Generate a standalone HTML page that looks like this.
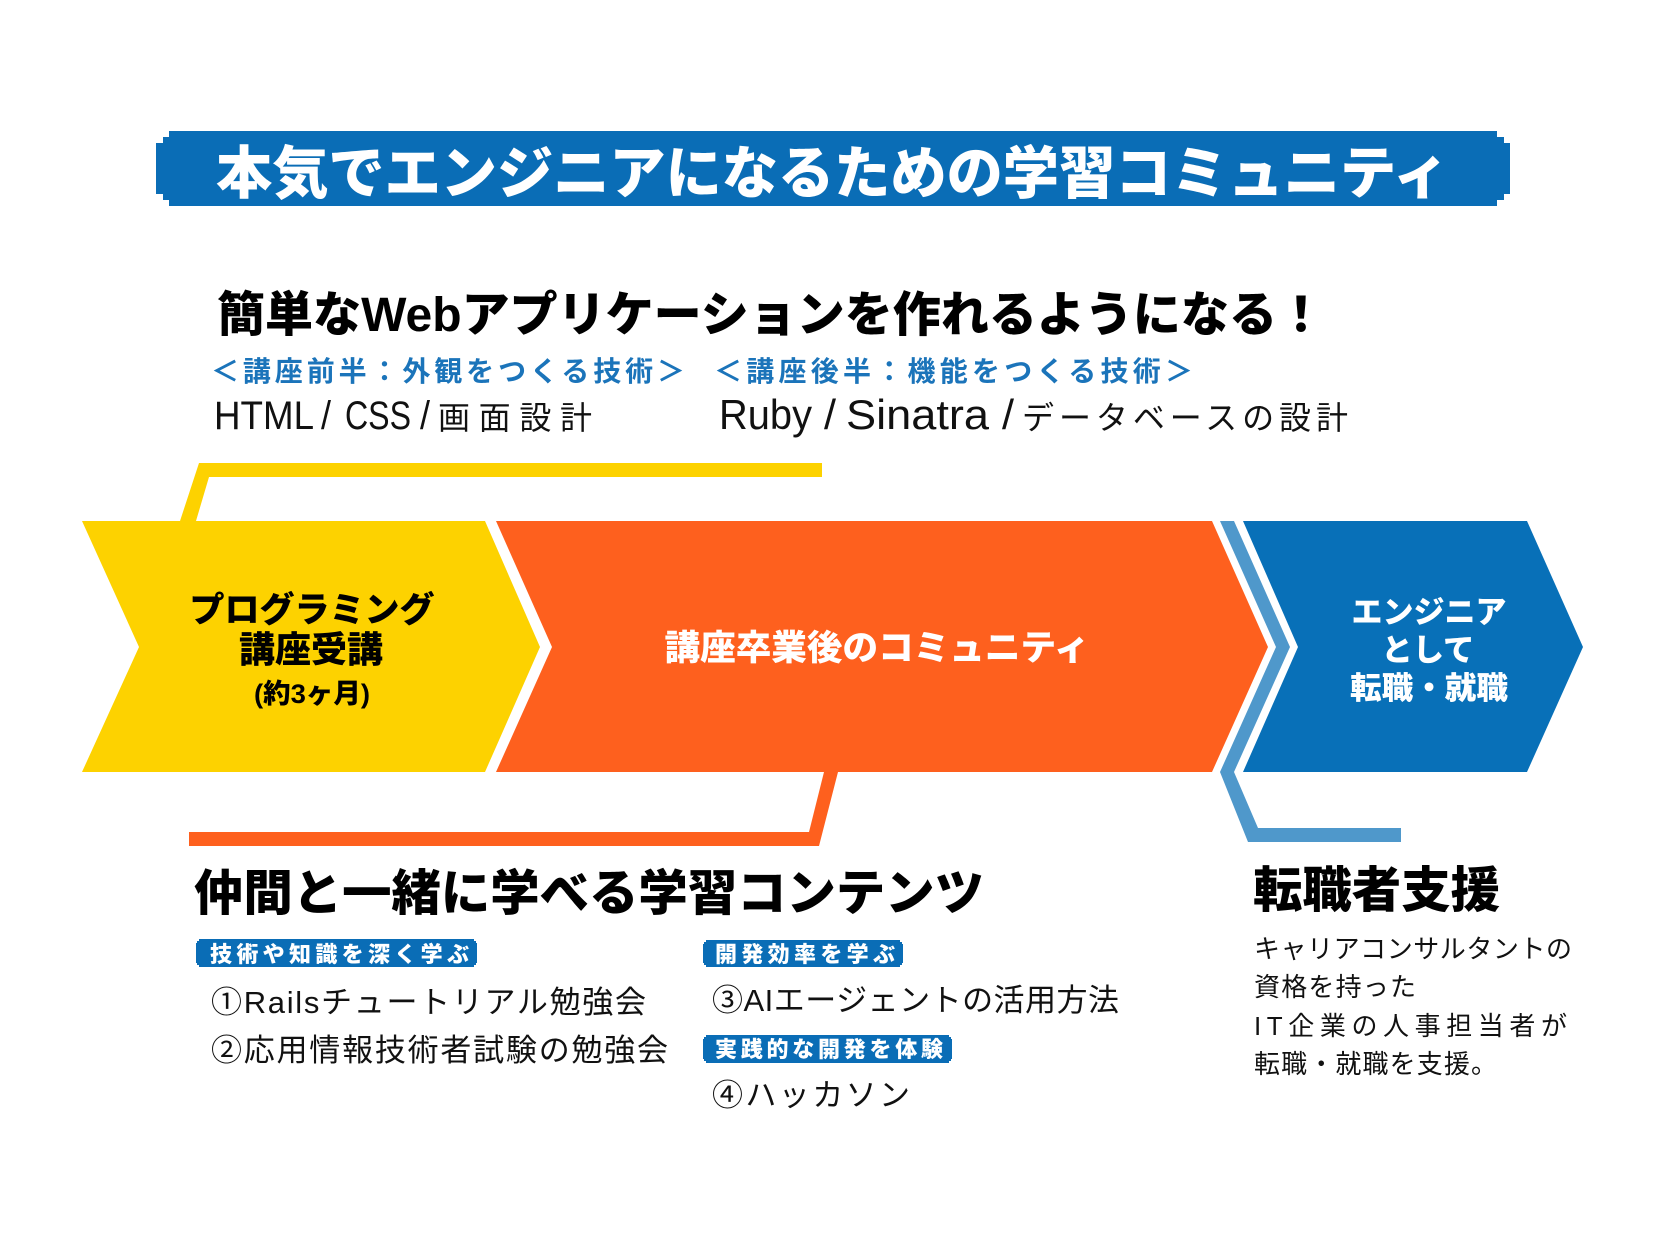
<!DOCTYPE html>
<html lang="ja">
<head>
<meta charset="utf-8">
<style>
  html,body{margin:0;padding:0;background:#ffffff;}
  svg{display:block;}
  text{font-family:"Liberation Sans","Noto Sans CJK JP",sans-serif;}
  .b{font-weight:900;}
</style>
</head>
<body>
<svg width="1667" height="1250" viewBox="0 0 1667 1250" xmlns="http://www.w3.org/2000/svg">
  <rect x="0" y="0" width="1667" height="1250" fill="#ffffff"/>

  <!-- Title bar (stepped corners) -->
  <g fill="#0a6db6">
    <rect x="169" y="131" width="1328" height="75"/>
    <rect x="163" y="137" width="1341" height="63"/>
    <rect x="156" y="143" width="1354" height="51"/>
  </g>
  <text x="216" y="193" font-size="57" class="b" fill="#ffffff" textLength="1233" lengthAdjust="spacingAndGlyphs">本気でエンジニアになるための学習コミュニティ</text>

  <!-- Heading -->
  <text x="217" y="331" font-size="48" class="b" fill="#000000" textLength="1108" lengthAdjust="spacingAndGlyphs">簡単なWebアプリケーションを作れるようになる！</text>

  <!-- Blue subheads -->
  <text x="211" y="381" font-size="28" font-weight="700" fill="#1b74ba" textLength="474" lengthAdjust="spacing">＜講座前半：外観をつくる技術＞</text>
  <text x="714" y="381" font-size="28" font-weight="700" fill="#1b74ba" textLength="479" lengthAdjust="spacing">＜講座後半：機能をつくる技術＞</text>

  <!-- HTML / CSS / 画面設計 -->
  <g fill="#111111" font-size="40">
    <text x="214" y="429" textLength="100" lengthAdjust="spacingAndGlyphs">HTML</text>
    <text x="321" y="429" textLength="10" lengthAdjust="spacingAndGlyphs">/</text>
    <text x="345" y="429" textLength="66" lengthAdjust="spacingAndGlyphs">CSS</text>
    <text x="420" y="429" textLength="10" lengthAdjust="spacingAndGlyphs">/</text>
    <text x="438" y="429" font-size="32" textLength="154" lengthAdjust="spacing">画面設計</text>

    <text x="719" y="429" font-size="42" textLength="93" lengthAdjust="spacingAndGlyphs">Ruby</text>
    <text x="824" y="429" font-size="42" textLength="12" lengthAdjust="spacingAndGlyphs">/</text>
    <text x="846" y="429" font-size="42" textLength="143" lengthAdjust="spacingAndGlyphs">Sinatra</text>
    <text x="1002" y="429" font-size="42" textLength="12" lengthAdjust="spacingAndGlyphs">/</text>
    <text x="1022" y="429" font-size="32" textLength="326" lengthAdjust="spacing">データベースの設計</text>
  </g>

  <!-- Yellow bracket -->
  <polygon fill="#fdd200" points="180,521 199,463 822,463 822,477 209,477 196,521"/>

  <!-- Yellow chevron -->
  <polygon fill="#fdd200" points="82,521 485,521 540,647 485,772 82,772 139,647"/>
  <g fill="#000000" class="b" text-anchor="middle">
    <text x="312" y="622" font-size="35" textLength="245" lengthAdjust="spacingAndGlyphs">プログラミング</text>
    <text x="311" y="662" font-size="36" textLength="144" lengthAdjust="spacingAndGlyphs">講座受講</text>
    <text x="312" y="703" font-size="27" textLength="116" lengthAdjust="spacingAndGlyphs">(約3ヶ月)</text>
  </g>

  <!-- Orange chevron -->
  <polygon fill="#fe601e" points="496,521 1212,521 1268,647 1212,772 496,772 552,647"/>
  <text x="877" y="660" font-size="35" class="b" fill="#ffffff" text-anchor="middle" textLength="425" lengthAdjust="spacingAndGlyphs">講座卒業後のコミュニティ</text>

  <!-- Orange bracket -->
  <polygon fill="#fe601e" points="838,772 819,846 189,846 189,832 809,832 824,772"/>

  <!-- Light blue band -->
  <polygon fill="#4f98cb" points="1220,521 1234,521 1290,647 1234,772 1258,828 1401,828 1401,842 1248,842 1220,772 1276,647"/>

  <!-- Dark blue chevron -->
  <polygon fill="#0870b8" points="1243,521 1527,521 1583,647 1527,772 1243,772 1298,647"/>
  <g fill="#ffffff" class="b" text-anchor="middle">
    <text x="1429" y="623" font-size="31" textLength="155" lengthAdjust="spacingAndGlyphs">エンジニア</text>
    <text x="1428" y="661" font-size="31" textLength="93" lengthAdjust="spacingAndGlyphs">として</text>
    <text x="1429" y="699" font-size="31" textLength="158" lengthAdjust="spacingAndGlyphs">転職・就職</text>
  </g>

  <!-- Lower heading -->
  <text x="194" y="910" font-size="49" class="b" fill="#000000" textLength="790" lengthAdjust="spacingAndGlyphs">仲間と一緒に学べる学習コンテンツ</text>

  <!-- Tags -->
  <g fill="#0a6db6">
    <rect x="199" y="939" width="275" height="28"/>
    <rect x="197" y="941" width="279" height="24"/>
    <rect x="196" y="943" width="281" height="20"/>

    <rect x="706" y="940" width="194" height="27"/>
    <rect x="704" y="942" width="198" height="23"/>
    <rect x="703" y="944" width="200" height="19"/>

    <rect x="706" y="1035" width="243" height="28"/>
    <rect x="704" y="1037" width="247" height="24"/>
    <rect x="703" y="1039" width="249" height="20"/>
  </g>
  <g fill="#ffffff" font-size="22" font-weight="900">
    <text x="210" y="962" textLength="259" lengthAdjust="spacing">技術や知識を深く学ぶ</text>
    <text x="715" y="962" textLength="180" lengthAdjust="spacing">開発効率を学ぶ</text>
    <text x="715" y="1057" textLength="228" lengthAdjust="spacing">実践的な開発を体験</text>
  </g>

  <!-- Items -->
  <g fill="#111111" font-size="31">
    <text x="211" y="1013" textLength="435" lengthAdjust="spacing">①Railsチュートリアル勉強会</text>
    <text x="211" y="1061" textLength="457" lengthAdjust="spacing">②応用情報技術者試験の勉強会</text>
    <text x="712" y="1011" textLength="407" lengthAdjust="spacing">③AIエージェントの活用方法</text>
    <text x="712" y="1106" textLength="198" lengthAdjust="spacing">④ハッカソン</text>
  </g>

  <!-- Right: 転職者支援 -->
  <text x="1253" y="907" font-size="49" class="b" fill="#000000" textLength="247" lengthAdjust="spacingAndGlyphs">転職者支援</text>
  <g fill="#111111" font-size="26">
    <text x="1254" y="958" textLength="318" lengthAdjust="spacing">キャリアコンサルタントの</text>
    <text x="1254" y="996" textLength="162" lengthAdjust="spacing">資格を持った</text>
    <text x="1254" y="1035" textLength="313" lengthAdjust="spacing">IT企業の人事担当者が</text>
    <text x="1254" y="1073" textLength="243" lengthAdjust="spacing">転職・就職を支援。</text>
  </g>
</svg>
</body>
</html>
